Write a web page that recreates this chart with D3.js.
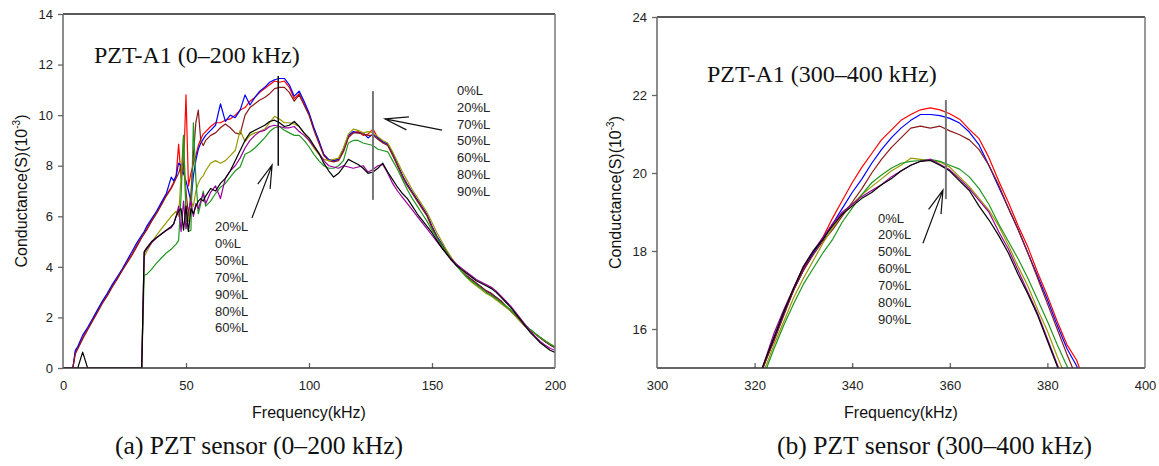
<!DOCTYPE html>
<html><head><meta charset="utf-8">
<script src="https://cdn.jsdelivr.net/npm/d3@7"></script>
<style>
html,body{margin:0;padding:0;background:#fff;}
svg{display:block;}
</style></head><body>
<svg id="chart" width="1159" height="466"></svg>
<script>
// Conductance spectra of sensor PZT-A1 at several load levels
const seriesNames = ["0%L", "20%L", "50%L", "60%L", "70%L", "80%L", "90%L"];
const seriesColors = ["#ff0000", "#0000ff", "#8b1a1a", "#999900", "#1f961f", "#990099", "#000000"];

// ---- 0–200 kHz band ----
const freqLow = [0,2,4,5,6,8,10,12,14,16,18,20,22,24,26,28,30,32,33,34,36,38,40,42,44,45,46,47,48,49,50,51,52,53,54,55,56,57,58,
  60,62,64,66,68,70,72,74,76,78,80,82,84,86,88,90,92,94,96,98,100,102,104,106,108,110,112,114,116,118,120,122,124,126,128,130,
  132,134,136,138,140,142,144,146,148,150,152,154,156,158,160,162,164,166,168,170,172,174,176,178,180,182,184,186,188,190,192,194,196,198,200];

const low0 = [0,0,0,0.62,0.8,1.2,1.55,1.9,2.25,2.6,2.9,3.25,3.55,3.85,4.2,4.5,4.85,5.2,5.35,5.5,5.85,6.15,6.5,6.85,7.15,7.35,7.6,8.85,7.5,7.9,10.8,7.2,7.7,8.1,8.4,8.8,9.05,9.25,9.35,
  9.55,9.7,9.7,9.8,9.85,10.0,10.2,10.3,10.55,10.7,10.9,11.05,11.2,11.35,11.3,11.35,11.1,10.65,10.85,10.45,10.05,9.45,8.95,8.45,8.2,8.2,8.25,8.6,9.15,9.3,9.35,9.2,9.25,9.45,9.1,8.95,
  8.85,8.45,8.0,7.6,7.25,6.95,6.65,6.35,6.05,5.6,5.2,4.9,4.6,4.3,4.05,3.85,3.65,3.5,3.35,3.2,3.05,2.95,2.8,2.65,2.45,2.25,2.05,1.85,1.65,1.5,1.35,1.2,1.05,0.92,0.8];
const low20 = [0,0,0,0.7,0.85,1.3,1.6,1.95,2.3,2.65,2.95,3.3,3.6,3.9,4.25,4.6,4.95,5.25,5.4,5.6,5.9,6.2,6.55,6.9,7.55,7.4,7.6,8.1,8.0,7.7,7.4,7.0,6.6,7.6,8.2,8.65,8.9,9.05,9.2,
  9.4,9.6,10.45,9.75,10.0,9.9,10.2,10.8,10.4,10.7,10.95,11.1,11.3,11.4,11.45,11.45,11.2,10.75,10.95,10.55,10.1,9.5,9.0,8.45,8.25,8.2,8.25,8.65,9.2,9.35,9.3,9.3,9.1,9.25,9.1,8.95,
  8.85,8.5,8.05,7.6,7.25,6.95,6.65,6.35,6.05,5.6,5.2,4.9,4.6,4.3,4.05,3.85,3.65,3.5,3.35,3.2,3.05,2.95,2.8,2.65,2.45,2.25,2.05,1.85,1.65,1.5,1.35,1.2,1.05,0.92,0.8];
const low50 = [0,0,0,0.55,0.75,1.15,1.5,1.85,2.2,2.55,2.85,3.2,3.5,3.85,4.15,4.45,4.8,5.15,5.3,5.45,5.8,6.1,6.45,6.8,7.1,7.3,7.5,7.7,8.0,8.1,7.0,6.0,6.9,8.4,9.7,10.2,9.0,8.8,9.0,
  9.2,9.3,9.5,9.65,9.5,9.3,9.25,10.0,10.3,10.45,10.6,10.7,10.85,11.05,11.1,11.1,10.9,10.55,10.8,10.4,10.0,9.4,8.9,8.4,8.2,8.15,8.2,8.55,9.1,9.3,9.3,9.25,9.2,9.2,9.05,8.9,
  8.8,8.4,8.0,7.55,7.2,6.9,6.6,6.3,6.0,5.55,5.15,4.85,4.55,4.3,4.05,3.85,3.65,3.5,3.35,3.2,3.05,2.95,2.8,2.65,2.45,2.25,2.05,1.85,1.65,1.5,1.35,1.2,1.05,0.92,0.8];
const low60 = [0,0,0,0,0,0,0,0,0,0,0,0,0,0,0,0,0,0,4.4,4.6,4.95,5.25,5.5,5.75,6.0,6.1,6.2,6.0,7.6,9.2,6.4,5.8,6.6,6.4,7.0,7.3,7.5,7.6,7.8,
  8.1,8.2,8.1,8.2,8.4,8.6,9.4,8.95,9.2,9.3,9.35,9.45,9.7,9.95,9.85,9.7,9.7,9.65,9.55,9.3,9.0,8.7,8.45,8.25,8.2,8.25,8.3,8.7,9.25,9.45,9.4,9.3,9.35,9.3,9.15,9.0,
  8.9,8.55,8.15,7.75,7.4,7.05,6.75,6.45,6.15,5.75,5.35,5.0,4.65,4.35,4.1,3.85,3.6,3.4,3.25,3.1,2.95,2.85,2.7,2.55,2.4,2.25,2.05,1.85,1.65,1.5,1.35,1.2,1.08,0.95,0.85];
const low70 = [0,0,0,0,0,0,0,0,0,0,0,0,0,0,0,0,0,0,3.67,3.7,3.9,4.15,4.35,4.55,4.7,4.8,4.9,5.05,6.8,9.2,6.0,5.4,5.45,9.7,7.5,6.1,6.5,7.0,6.4,
  6.6,6.9,7.15,7.3,7.55,7.8,7.95,8.45,8.55,8.7,8.9,9.1,9.35,9.5,9.55,9.4,9.3,9.2,9.2,9.0,8.75,8.45,8.2,8.0,7.9,7.9,8.0,8.2,8.9,9.0,9.0,8.9,8.85,8.8,8.65,8.6,
  8.55,8.2,7.85,7.45,7.05,6.7,6.4,6.1,5.8,5.45,5.15,4.85,4.55,4.3,4.05,3.8,3.6,3.45,3.3,3.15,3.0,2.88,2.75,2.6,2.45,2.3,2.1,1.9,1.7,1.52,1.37,1.22,1.08,0.95,0.82];
const low80 = [0,0,0,0,0,0,0,0,0,0,0,0,0,0,0,0,0,0,4.55,4.7,4.95,5.15,5.3,5.45,5.55,5.7,6.0,6.4,5.4,6.6,5.5,6.2,6.6,6.0,6.5,6.3,6.6,6.9,6.5,
  6.95,7.2,6.7,7.5,7.8,8.0,8.3,8.7,9.0,9.2,9.35,9.4,9.55,9.6,9.55,9.5,9.5,9.55,9.35,9.2,9.0,8.75,8.5,8.2,8.0,7.95,7.9,8.0,7.95,7.9,7.95,8.0,7.75,7.85,8.0,8.05,
  7.7,7.3,7.0,6.75,6.5,6.25,6.0,5.75,5.5,5.25,5.0,4.75,4.5,4.3,4.1,3.95,3.8,3.65,3.5,3.4,3.3,3.2,3.05,2.85,2.65,2.45,2.2,1.95,1.7,1.45,1.25,1.05,0.9,0.78,0.7];
const low90 = [0,0,0,0,0,0.63,0,0,0,0,0,0,0,0,0,0,0,0,4.6,4.75,5.0,5.15,5.3,5.45,5.6,5.7,6.0,6.2,6.3,5.45,6.4,5.4,6.3,6.1,6.4,6.6,6.7,6.6,6.8,
  7.1,7.0,7.3,7.5,7.8,8.2,8.6,9.0,9.3,9.4,9.5,9.6,9.75,9.8,9.7,9.55,9.6,9.75,9.55,9.3,9.1,8.8,8.5,8.1,7.8,7.55,7.7,7.95,8.25,8.15,8.05,7.9,7.7,7.75,7.9,8.1,
  7.75,7.45,7.15,6.9,6.7,6.4,6.1,5.85,5.6,5.35,5.05,4.75,4.5,4.25,4.05,3.9,3.75,3.6,3.45,3.35,3.25,3.15,3.0,2.8,2.6,2.4,2.15,1.9,1.65,1.4,1.2,1.0,0.85,0.7,0.62];

// ---- 300–400 kHz band ----
const freqHigh = [320,322,324,326,328,330,332,334,336,338,340,342,344,346,348,350,352,354,356,358,360,362,364,366,368,370,372,374,376,378,380,382,384,386,388,390];
const high0  = [14.45,15.1,15.75,16.4,17.0,17.55,17.95,18.35,18.85,19.3,19.75,20.15,20.5,20.85,21.1,21.35,21.5,21.62,21.67,21.62,21.52,21.38,21.12,20.88,20.4,19.8,19.25,18.65,18.1,17.45,16.85,16.2,15.6,15.2,14.5,13.9];
const high20 = [14.45,15.1,15.75,16.4,17.0,17.5,17.95,18.3,18.7,19.1,19.5,19.85,20.25,20.6,20.9,21.15,21.35,21.5,21.5,21.47,21.4,21.28,21.05,20.72,20.2,19.65,19.1,18.55,17.95,17.35,16.75,16.1,15.5,15.05,14.4,13.8];
const high50 = [14.45,15.1,15.7,16.35,17.0,17.5,17.9,18.25,18.55,18.9,19.25,19.6,20.0,20.35,20.65,20.9,21.15,21.2,21.15,21.2,21.08,20.98,20.85,20.6,20.2,19.7,19.1,18.55,17.95,17.3,16.65,16.0,15.35,14.75,14.15,13.55];
const high60 = [14.3,14.95,15.6,16.2,16.8,17.3,17.75,18.2,18.6,18.95,19.2,19.45,19.65,19.85,20.05,20.2,20.38,20.35,20.32,20.28,20.15,19.9,19.65,19.35,19.05,18.65,18.15,17.6,17.1,16.5,15.95,15.3,14.7,14.1,13.5,12.9];
const high70 = [14.15,14.85,15.5,16.1,16.65,17.15,17.55,17.95,18.3,18.75,19.1,19.45,19.75,19.95,20.12,20.25,20.3,20.32,20.35,20.3,20.2,20.1,19.9,19.6,19.2,18.7,18.25,17.8,17.3,16.75,16.2,15.6,15.05,14.45,13.85,13.25];
const high80 = [14.45,15.15,15.9,16.5,17.05,17.6,18.0,18.35,18.7,19.0,19.2,19.4,19.55,19.7,19.9,20.05,20.2,20.3,20.35,20.22,20.08,19.85,19.6,19.3,19.0,18.5,18.05,17.5,16.95,16.4,15.75,15.1,14.45,13.8,13.2,12.6];
const high90 = [14.45,15.15,15.8,16.45,17.05,17.6,18.0,18.3,18.65,18.95,19.15,19.35,19.5,19.7,19.85,20.05,20.2,20.3,20.32,20.2,20.05,19.8,19.55,19.15,18.8,18.4,17.95,17.4,16.9,16.35,15.7,15.05,14.4,13.75,13.15,12.55];

const lowTicksX = [0, 50, 100, 150, 200];
const lowTicksY = [0, 2, 4, 6, 8, 10, 12, 14];
const highTicksX = [300, 320, 340, 360, 380, 400];
const highTicksY = [16, 18, 20, 22, 24];

const lowNotesLeft = ["20%L", "0%L", "50%L", "70%L", "90%L", "80%L", "60%L"];
const lowNotesRight = ["0%L", "20%L", "70%L", "50%L", "60%L", "80%L", "90%L"];
const highNotes = ["0%L", "20%L", "50%L", "60%L", "70%L", "80%L", "90%L"];

const SANS = "'Liberation Sans', Arial, sans-serif";
const SERIF = "'Liberation Serif', 'Times New Roman', serif";

const svg = d3.select("#chart");

function arrow(g, x1, y1, x2, y2) {
  // shaft from (x1,y1) to the tip (x2,y2) with an open head
  const ang = Math.atan2(y1 - y2, x1 - x2);
  const len = 24, spread = 16 * Math.PI / 180;
  const path = d3.path();
  path.moveTo(x1, y1); path.lineTo(x2, y2);
  path.moveTo(x2 + len * Math.cos(ang + spread), y2 + len * Math.sin(ang + spread));
  path.lineTo(x2, y2);
  path.lineTo(x2 + len * Math.cos(ang - spread), y2 + len * Math.sin(ang - spread));
  g.append("path").attr("d", path.toString()).attr("fill", "none")
    .attr("stroke", "#111").attr("stroke-width", 1.2);
}

function panel(cfg) {
  const g = svg.append("g");
  const x = d3.scaleLinear().domain(cfg.xDomain).range([cfg.left, cfg.right]);
  const y = d3.scaleLinear().domain(cfg.yDomain).range([cfg.bottom, cfg.top]);

  const clipId = "clip-" + cfg.id;
  svg.append("defs").append("clipPath").attr("id", clipId)
    .append("rect").attr("x", cfg.left).attr("y", cfg.top)
    .attr("width", cfg.right - cfg.left).attr("height", cfg.bottom - cfg.top);

  const line = d3.line().x((d, i) => x(cfg.freq[i])).y(d => y(d));
  const lines = g.append("g").attr("clip-path", `url(#${clipId})`);
  cfg.series.forEach((vals, k) => {
    lines.append("path").datum(vals).attr("d", line)
      .attr("fill", "none").attr("stroke", seriesColors[k])
      .attr("stroke-width", 1.2).attr("stroke-linejoin", "round");
  });

  // axes
  const xAxis = d3.axisBottom(x).tickValues(cfg.xTicks).tickSizeInner(-5).tickSizeOuter(0).tickPadding(13);
  const yAxis = d3.axisLeft(y).tickValues(cfg.yTicks).tickSizeInner(5).tickSizeOuter(0).tickPadding(5);
  const gx = g.append("g").attr("transform", `translate(0,${cfg.bottom})`).call(xAxis);
  const gy = g.append("g").attr("transform", `translate(${cfg.left},0)`).call(yAxis);
  [gx, gy].forEach(a => {
    a.select(".domain").remove();
    a.selectAll(".tick line").attr("stroke", "#666").attr("stroke-width", 1.3);
    a.selectAll(".tick text").attr("font-family", SANS).attr("font-size", 13).attr("fill", "#222");
  });
  gx.selectAll(".tick line").filter(d => d === cfg.xDomain[0] || d === cfg.xDomain[1]).remove();

  // frame
  g.append("line").attr("x1", cfg.left).attr("x2", cfg.right).attr("y1", cfg.top).attr("y2", cfg.top)
    .attr("stroke", "#222").attr("stroke-width", 1.4);
  g.append("line").attr("x1", cfg.left).attr("x2", cfg.right).attr("y1", cfg.bottom).attr("y2", cfg.bottom)
    .attr("stroke", "#333").attr("stroke-width", 1.4);
  g.append("line").attr("x1", cfg.left).attr("x2", cfg.left).attr("y1", cfg.top).attr("y2", cfg.bottom)
    .attr("stroke", "#666").attr("stroke-width", 1.5);
  g.append("line").attr("x1", cfg.right).attr("x2", cfg.right).attr("y1", cfg.top).attr("y2", cfg.bottom)
    .attr("stroke", "#777").attr("stroke-width", 1.5);

  // axis titles
  const midX = (cfg.left + cfg.right) / 2, midY = (cfg.top + cfg.bottom) / 2;
  g.append("text").attr("x", midX).attr("y", 418).attr("text-anchor", "middle")
    .attr("font-family", SANS).attr("font-size", 16).attr("fill", "#111").text("Frequency(kHz)");
  const yt = g.append("text").attr("transform", `translate(${cfg.left - 36},${midY}) rotate(-90)`)
    .attr("text-anchor", "middle").attr("font-family", SANS).attr("font-size", 16).attr("fill", "#111");
  yt.append("tspan").text("Conductance(S)(10");
  yt.append("tspan").attr("font-size", 10).attr("dy", -7).text("-3");
  yt.append("tspan").attr("dy", 7).text(")");

  // inner title
  g.append("text").attr("x", cfg.titleX).attr("y", cfg.titleY)
    .attr("font-family", SERIF).attr("font-size", 24).attr("fill", "#111").text(cfg.title);

  // caption under the panel
  g.append("text").attr("x", cfg.captionX).attr("y", 454)
    .attr("font-family", SERIF).attr("font-size", 25.6).attr("fill", "#111").text(cfg.caption);

  return { g, x, y };
}

function noteBlock(p, fx, fv, labels) {
  const x0 = p.x(fx), y0 = p.y(fv);
  p.g.append("g").selectAll("text").data(labels).join("text")
    .attr("x", x0).attr("y", (d, i) => y0 + 4.7 + i * 16.85)
    .attr("font-family", SANS).attr("font-size", 13).attr("fill", "#222").text(d => d);
}

function marker(p, f, v1, v2, color, w) {
  p.g.append("line").attr("x1", p.x(f)).attr("x2", p.x(f)).attr("y1", p.y(v1)).attr("y2", p.y(v2))
    .attr("stroke", color).attr("stroke-width", w);
}

// panel (a)
const pa = panel({
  id: "a", left: 63, right: 555, top: 14, bottom: 368,
  xDomain: [0, 200], yDomain: [0, 14], xTicks: lowTicksX, yTicks: lowTicksY,
  freq: freqLow, series: [low0, low20, low50, low60, low70, low80, low90],
  title: "PZT-A1 (0–200 kHz)", titleX: 94, titleY: 63,
  caption: "(a) PZT sensor (0–200 kHz)", captionX: 115
});
marker(pa, 87.5, 11.55, 8.0, "#111", 1.5);
marker(pa, 126, 10.95, 6.65, "#777", 2);
arrow(pa.g, pa.x(76.8), pa.y(5.93), pa.x(85.0), pa.y(8.03));
arrow(pa.g, pa.x(154.1), pa.y(9.41), pa.x(130.9), pa.y(9.85));
noteBlock(pa, 61.8, 5.59, lowNotesLeft);
noteBlock(pa, 160.2, 10.99, lowNotesRight);

// panel (b)
const pb = panel({
  id: "b", left: 657, right: 1145, top: 17, bottom: 368,
  xDomain: [300, 400], yDomain: [15, 24], xTicks: highTicksX, yTicks: highTicksY,
  freq: freqHigh, series: [high0, high20, high50, high60, high70, high80, high90],
  title: "PZT-A1 (300–400 kHz)", titleX: 707, titleY: 82,
  caption: "(b) PZT sensor (300–400 kHz)", captionX: 777
});
marker(pb, 359.2, 21.87, 19.33, "#777", 2);
arrow(pb.g, pb.x(354.5), pb.y(18.2), pb.x(358.6), pb.y(19.56));
noteBlock(pb, 345.3, 18.85, highNotes);
</script>
</body></html>
